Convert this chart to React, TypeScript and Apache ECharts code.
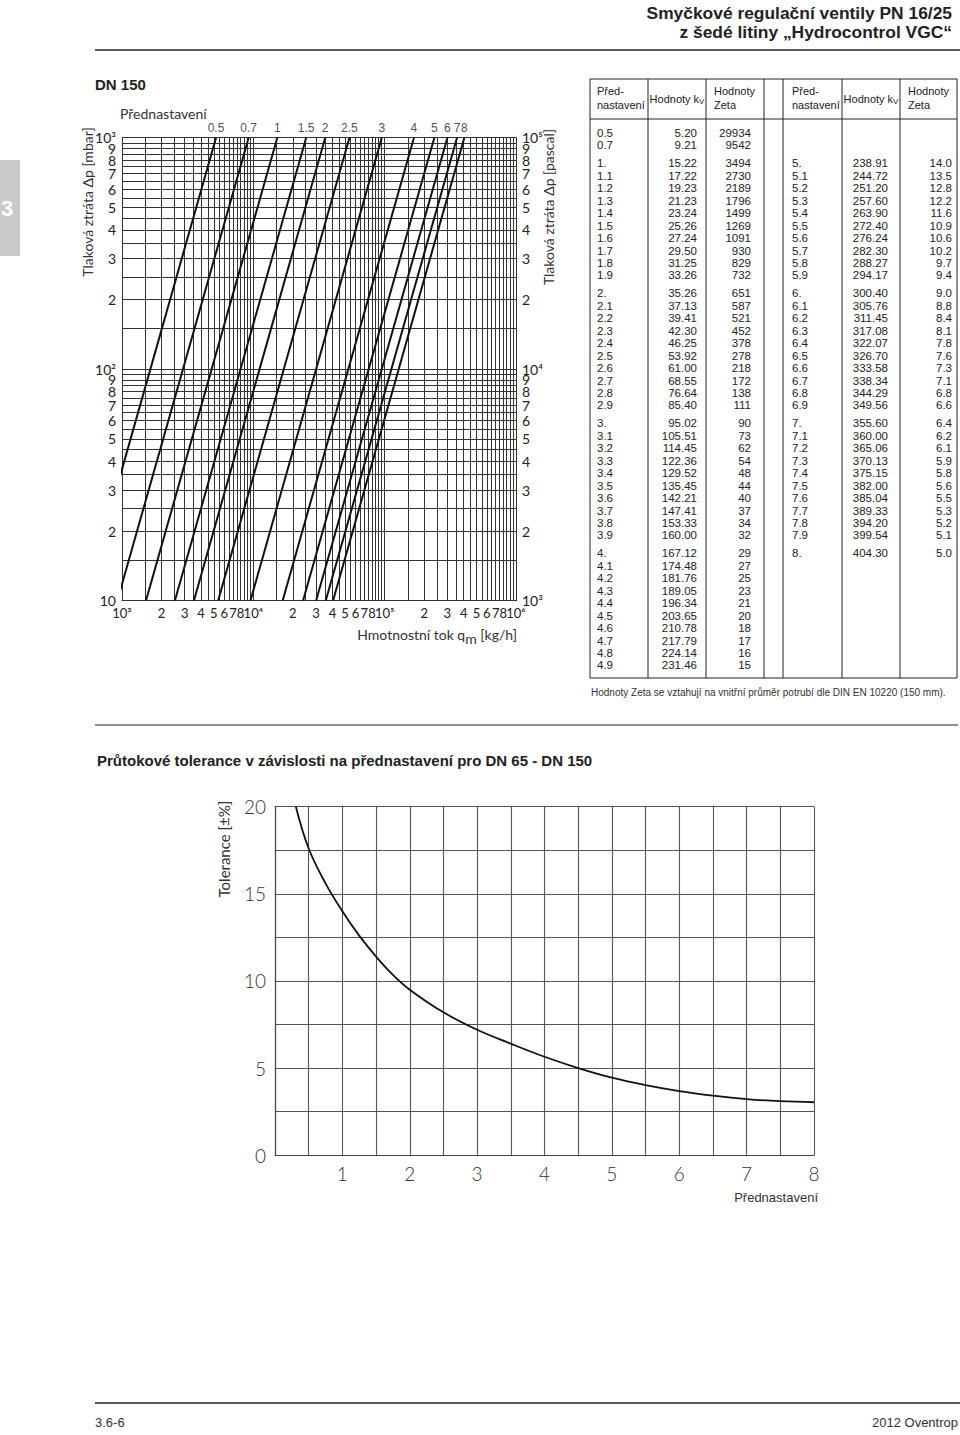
import React, { useEffect, useRef } from "react";
import * as echarts from "echarts";

// ---------- pressure-loss chart (DN 150) ----------
const presetLabels = ["0.5", "0.7", "1", "1.5", "2", "2.5", "3", "4", "5", "6", "7", "8"];
// mass flow [kg/h] where each line crosses 1000 mbar (top) and 10 mbar (bottom)
const flowAtTop = [5200, 9210, 15220, 25260, 35260, 53920, 95020, 167120, 238910, 300400, 355600, 404300];
const flowAtBottom = [520, 921, 1522, 2526, 3526, 5392, 9502, 16712, 23891, 30040, 35560, 40430];
const dpTop = 1000;
const dpBottom = 10;

const flowDecades = [1000, 10000, 100000];
const dpDecades = [10, 100];
const gridSteps = [1, 1.5, 2, 2.5, 3, 3.5, 4, 4.5, 5, 5.5, 6, 6.5, 7, 7.5, 8, 8.5, 9, 9.5];

const flowLabelValues = [1000, 2000, 3000, 4000, 5000, 6000, 7000, 8000, 10000, 20000, 30000, 40000, 50000, 60000, 70000, 80000, 100000, 200000, 300000, 400000, 500000, 600000, 700000, 800000, 1000000];
const flowLabelTexts = ["10³", "2", "3", "4", "5", "6", "7", "8", "10⁴", "2", "3", "4", "5", "6", "7", "8", "10⁵", "2", "3", "4", "5", "6", "7", "8", "10⁶"];
const dpLabelValues = [10, 20, 30, 40, 50, 60, 70, 80, 90, 100, 200, 300, 400, 500, 600, 700, 800, 900, 1000];
const dpLabelMbar = ["10", "2", "3", "4", "5", "6", "7", "8", "9", "10²", "2", "3", "4", "5", "6", "7", "8", "9", "10³"];
const dpLabelPascal = ["10³", "2", "3", "4", "5", "6", "7", "8", "9", "10⁴", "2", "3", "4", "5", "6", "7", "8", "9", "10⁵"];

// ---------- table ----------
const tablePresetA = ["0.5", "0.7", "1.", "1.1", "1.2", "1.3", "1.4", "1.5", "1.6", "1.7", "1.8", "1.9", "2.", "2.1", "2.2", "2.3", "2.4", "2.5", "2.6", "2.7", "2.8", "2.9", "3.", "3.1", "3.2", "3.3", "3.4", "3.5", "3.6", "3.7", "3.8", "3.9", "4.", "4.1", "4.2", "4.3", "4.4", "4.5", "4.6", "4.7", "4.8", "4.9"];
const tableKvA = ["5.20", "9.21", "15.22", "17.22", "19.23", "21.23", "23.24", "25.26", "27.24", "29.50", "31.25", "33.26", "35.26", "37.13", "39.41", "42.30", "46.25", "53.92", "61.00", "68.55", "76.64", "85.40", "95.02", "105.51", "114.45", "122.36", "129.52", "135.45", "142.21", "147.41", "153.33", "160.00", "167.12", "174.48", "181.76", "189.05", "196.34", "203.65", "210.78", "217.79", "224.14", "231.46"];
const tableZetaA = ["29934", "9542", "3494", "2730", "2189", "1796", "1499", "1269", "1091", "930", "829", "732", "651", "587", "521", "452", "378", "278", "218", "172", "138", "111", "90", "73", "62", "54", "48", "44", "40", "37", "34", "32", "29", "27", "25", "23", "21", "20", "18", "17", "16", "15"];
const tablePresetB = ["5.", "5.1", "5.2", "5.3", "5.4", "5.5", "5.6", "5.7", "5.8", "5.9", "6.", "6.1", "6.2", "6.3", "6.4", "6.5", "6.6", "6.7", "6.8", "6.9", "7.", "7.1", "7.2", "7.3", "7.4", "7.5", "7.6", "7.7", "7.8", "7.9", "8."];
const tableKvB = ["238.91", "244.72", "251.20", "257.60", "263.90", "272.40", "276.24", "282.30", "288.27", "294.17", "300.40", "305.76", "311.45", "317.08", "322.07", "326.70", "333.58", "338.34", "344.29", "349.56", "355.60", "360.00", "365.06", "370.13", "375.15", "382.00", "385.04", "389.33", "394.20", "399.54", "404.30"];
const tableZetaB = ["14.0", "13.5", "12.8", "12.2", "11.6", "10.9", "10.6", "10.2", "9.7", "9.4", "9.0", "8.8", "8.4", "8.1", "7.8", "7.6", "7.3", "7.1", "6.8", "6.6", "6.4", "6.2", "6.1", "5.9", "5.8", "5.6", "5.5", "5.3", "5.2", "5.1", "5.0"];

// ---------- tolerance chart ----------
const tolPreset = [0.31, 0.5, 0.75, 1, 1.25, 1.5, 1.75, 2, 2.5, 3, 3.5, 4, 4.5, 5, 5.5, 6, 6.5, 7, 7.5, 8];
const tolValue = [20, 17.6, 15.6, 14.0, 12.6, 11.4, 10.35, 9.5, 8.2, 7.2, 6.4, 5.65, 5.0, 4.45, 4.02, 3.68, 3.42, 3.22, 3.1, 3.04];

const TECH = "Lato, 'DejaVu Sans', sans-serif";
const HELV = "'Liberation Sans', Arial, sans-serif";
const NARROW = "'Liberation Sans Narrow', 'Liberation Sans', sans-serif";
const L = Math.log10;

const labelFmt = (vals: number[], texts: string[]) => (v: number) => {
  const i = vals.findIndex((x) => Math.abs(L(x) - v) < 1e-6);
  return i >= 0 ? texts[i] : "";
};
// order label positions so that ECharts' first/last-label overlap check compares distant labels
// (every label is still drawn at its own value)
const edgeSafe = (vals: number[]) => {
  const n = vals.length;
  return [vals[0], vals[n - 1], ...vals.slice(2, n - 2), vals[1], vals[n - 2]].map(L);
};
const gridValues = (decades: number[], last: number) => {
  const out: number[] = [];
  decades.forEach((d) => gridSteps.forEach((m) => out.push(L(d * m))));
  out.push(L(last));
  return out;
};

function buildGraphic() {
  const g: any[] = [];
  const txt = (x: number, y: number, text: string, o: any = {}) =>
    g.push({
      type: "text",
      x,
      y,
      rotation: o.rotation || 0,
      style: {
        text,
        fill: o.fill || "#222",
        fontSize: o.size || 11,
        fontFamily: o.family || HELV,
        fontWeight: o.weight || "normal",
        align: o.align || "left",
        verticalAlign: o.va || "middle",
        rich: o.rich,
      },
    });
  const line = (x1: number, y1: number, x2: number, y2: number, w = 1, c = "#222") =>
    g.push({ type: "line", shape: { x1, y1, x2, y2 }, style: { stroke: c, lineWidth: w } });

  // header
  txt(952, 13, "Smyčkové regulační ventily PN 16/25", { size: 17.4, weight: "bold", family: NARROW, align: "right" });
  txt(952, 32, "z šedé litiny „Hydrocontrol VGC“", { size: 17.4, weight: "bold", family: NARROW, align: "right" });
  line(95, 50, 960, 50, 1.5);
  // side tab
  g.push({ type: "rect", shape: { x: 0, y: 160, width: 20, height: 96 }, style: { fill: "#c9c9c9" } });
  txt(1, 208, "3", { size: 22, weight: "bold", fill: "#fff" });

  txt(95, 84, "DN 150", { size: 15, weight: "bold" });
  txt(120, 113, "Přednastavení", { size: 14, family: TECH, fill: "#333" });
  txt(87, 202, "Tlaková ztráta Δp [mbar]", { size: 14, family: TECH, fill: "#333", align: "center", rotation: Math.PI / 2 });
  txt(548, 207, "Tlaková ztráta Δp [pascal]", { size: 14, family: TECH, fill: "#333", align: "center", rotation: Math.PI / 2 });
  txt(517, 634, "Hmotnostní tok q{m|m} [kg/h]", {
    size: 14, family: TECH, fill: "#333", align: "right",
    rich: { m: { fontSize: 14, fontFamily: TECH, fill: "#333", padding: [8, 0, 0, 0] } },
  });

  // table
  const colX = [590, 648, 706, 764, 783, 842, 900, 957];
  const top = 79, headBottom = 119, bottom = 678;
  colX.forEach((x) => line(x, top, x, bottom, 1));
  line(590, top, 957, top, 1);
  line(590, headBottom, 957, headBottom, 1);
  line(590, bottom, 957, bottom, 1);
  const header = (x0: number, kvC: number, zx: number) => {
    txt(x0, 91, "Před-", { size: 11 });
    txt(x0, 105, "nastavení", { size: 11 });
    txt(kvC, 99, "Hodnoty k{v|V}", { size: 11, align: "center", rich: { v: { fontSize: 8, padding: [5, 0, 0, 0] } } });
    txt(zx, 91, "Hodnoty", { size: 11 });
    txt(zx, 105, "Zeta", { size: 11 });
  };
  header(597, 677, 714);
  header(792, 871, 908);
  const rowY = (idx: number, grp: number) => 133 + idx * 12.45 + grp * 5.5;
  tablePresetA.forEach((p, i) => {
    const grp = i < 2 ? 0 : Math.floor(parseFloat(p));
    const y = rowY(i, grp);
    txt(597, y, p, { size: 11.5 });
    txt(697, y, tableKvA[i], { size: 11.5, align: "right" });
    txt(751, y, tableZetaA[i], { size: 11.5, align: "right" });
  });
  tablePresetB.forEach((p, i) => {
    const grp = Math.floor(parseFloat(p)) - 4;
    const y = rowY(i + 2, grp);
    txt(792, y, p, { size: 11.5 });
    txt(888, y, tableKvB[i], { size: 11.5, align: "right" });
    txt(952, y, tableZetaB[i], { size: 11.5, align: "right" });
  });
  txt(591, 692, "Hodnoty Zeta se vztahují na vnitřní průměr potrubí dle DIN EN 10220 (150 mm).", { size: 10, fill: "#333" });

  line(95, 725, 958, 725, 1);
  txt(97, 760, "Průtokové tolerance v závislosti na přednastavení pro DN 65 - DN 150", { size: 15, weight: "bold" });
  txt(224, 849, "Tolerance [±%]", { size: 15, family: TECH, fill: "#333", align: "center", rotation: Math.PI / 2 });
  txt(818, 1197, "Přednastavení", { size: 13, family: NARROW, fill: "#333", align: "right" });

  line(95, 1403, 960, 1403, 1.5);
  txt(95, 1422, "3.6-6", { size: 13, family: NARROW, fill: "#333" });
  txt(958, 1422, "2012 Oventrop", { size: 13, family: NARROW, fill: "#333", align: "right" });
  return g;
}

function buildOption(): any {
  const axisLineDark = { show: true, lineStyle: { color: "#333", width: 1 } };
  const gridLine = { show: true, lineStyle: { color: "#333", width: 1 } };
  const techLabel = { fontFamily: TECH, color: "#222", fontSize: 14, showMinLabel: true, showMaxLabel: true };

  const lineSeries = presetLabels.map((name, i) => ({
    type: "line",
    name,
    xAxisIndex: 0,
    yAxisIndex: 0,
    data: [
      [L(flowAtBottom[i]), L(dpBottom)],
      [L(flowAtTop[i]), L(dpTop)],
    ],
    symbol: "none",
    clip: true,
    silent: true,
    lineStyle: { color: "#111", width: 2 },
    z: 5,
  }));

  return {
    animation: false,
    backgroundColor: "#fff",
    grid: [
      { left: 122, top: 137.7, width: 394, height: 463, containLabel: false },
      { left: 275, top: 806.7, width: 539, height: 348.5, containLabel: false },
    ],
    xAxis: [
      {
        type: "value", gridIndex: 0, min: 3, max: 6, position: "bottom",
        axisLine: axisLineDark,
        axisTick: { show: false, customValues: gridValues(flowDecades, 1000000) },
        splitLine: gridLine,
        axisLabel: {
          ...techLabel, fontSize: 13, margin: 6,
          customValues: edgeSafe(flowLabelValues),
          formatter: labelFmt(flowLabelValues, flowLabelTexts),
        },
      },
      {
        type: "value", gridIndex: 1, min: 0, max: 8, interval: 0.5,
        axisLine: { show: true, lineStyle: { color: "#444", width: 1.2 } },
        axisTick: { show: false },
        splitLine: { show: true, lineStyle: { color: "#555", width: 1.1 } },
        axisLabel: {
          fontFamily: TECH, color: "#333", fontSize: 19, margin: 9, fontWeight: 300,
          formatter: (v: number) => (v >= 1 && Math.abs(v - Math.round(v)) < 1e-9 ? String(v) : ""),
        },
      },
    ],
    yAxis: [
      {
        type: "value", gridIndex: 0, min: 1, max: 3, position: "left",
        axisLine: axisLineDark,
        axisTick: { show: false, customValues: gridValues(dpDecades, 1000) },
        splitLine: gridLine,
        axisLabel: {
          ...techLabel, margin: 6, lineHeight: 10,
          customValues: edgeSafe(dpLabelValues),
          formatter: labelFmt(dpLabelValues, dpLabelMbar),
        },
      },
      {
        type: "value", gridIndex: 0, min: 1, max: 3, position: "right",
        axisLine: axisLineDark,
        axisTick: { show: false },
        splitLine: { show: false },
        axisLabel: {
          ...techLabel, margin: 6, lineHeight: 10,
          customValues: edgeSafe(dpLabelValues),
          formatter: labelFmt(dpLabelValues, dpLabelPascal),
        },
      },
      {
        type: "value", gridIndex: 1, min: 0, max: 20, interval: 2.5,
        axisLine: { show: true, lineStyle: { color: "#444", width: 1.2 } },
        axisTick: { show: false },
        splitLine: { show: true, lineStyle: { color: "#555", width: 1.1 } },
        axisLabel: {
          fontFamily: TECH, color: "#333", fontSize: 19, margin: 9, fontWeight: 300,
          formatter: (v: number) => (Math.abs(v / 5 - Math.round(v / 5)) < 1e-9 ? String(v) : ""),
        },
      },
    ],
    series: [
      ...lineSeries,
      {
        type: "scatter",
        xAxisIndex: 0,
        yAxisIndex: 0,
        symbolSize: 1,
        itemStyle: { color: "rgba(0,0,0,0)" },
        silent: true,
        data: presetLabels.map((name, i) => ({
          value: [L(flowAtTop[i]), L(dpTop)],
          name,
          label: {
            show: true, position: "top", distance: 3, formatter: name,
            fontFamily: NARROW, fontSize: 12, color: "#222",
          },
        })),
      },
      {
        type: "line",
        xAxisIndex: 1,
        yAxisIndex: 2,
        data: tolPreset.map((x, i) => [x, tolValue[i]]),
        smooth: 0.4,
        symbol: "none",
        silent: true,
        lineStyle: { color: "#111", width: 1.8 },
        z: 5,
      },
    ],
    graphic: buildGraphic(),
  };
}

export default function App() {
  const ref = useRef<HTMLDivElement>(null);
  useEffect(() => {
    const chart = echarts.init(ref.current!, null, { renderer: "svg" });
    chart.setOption(buildOption());
    return () => chart.dispose();
  }, []);
  return (
    <div
      ref={ref}
      style={{ position: "absolute", left: 0, top: 0, width: 960, height: 1435, background: "#fff" }}
    />
  );
}
